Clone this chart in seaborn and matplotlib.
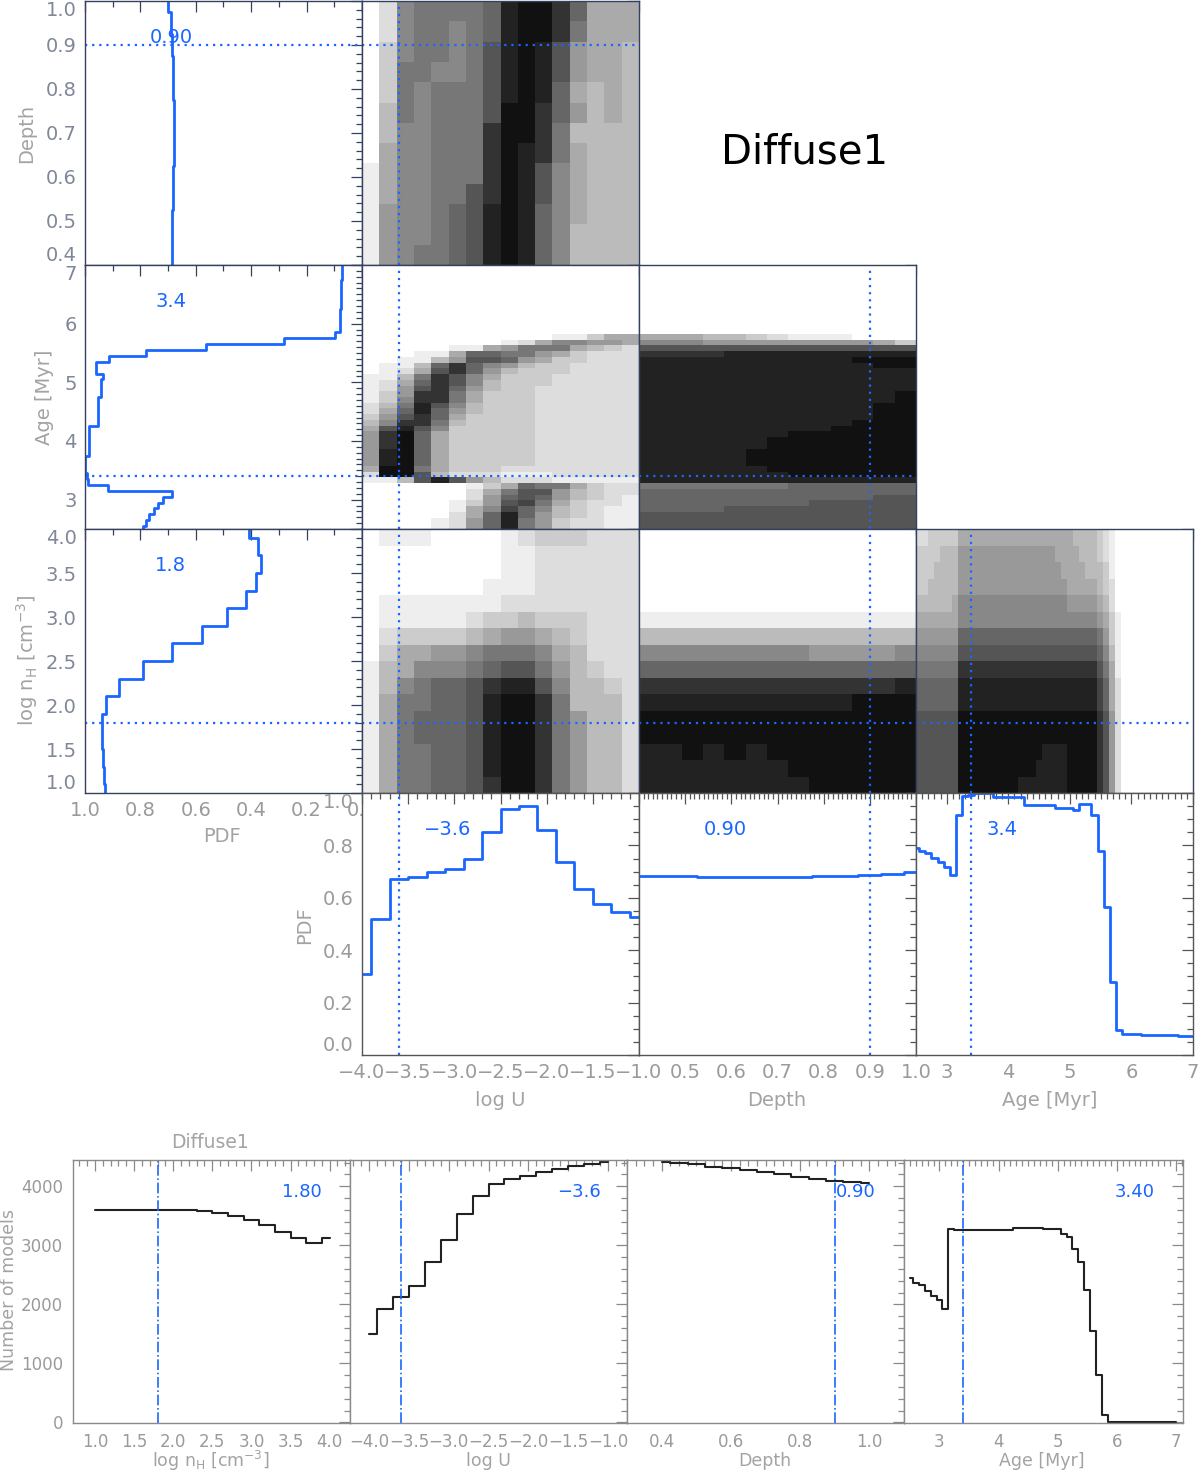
import numpy as np
import matplotlib
matplotlib.use("Agg")
import matplotlib.pyplot as plt
from matplotlib.ticker import MultipleLocator, FuncFormatter, NullFormatter
import seaborn as sns

sns.set_theme(style="white")
plt.rcParams["font.family"] = ["DejaVu Sans"]
plt.rcParams["mathtext.fontset"] = "dejavusans"
plt.rcParams["axes.linewidth"] = 1.0

# ------------------------------------------------------------------ data
logU_grid = np.linspace(-4.0, -1.0, 16)
depth_grid = np.linspace(0.4, 1.0, 13)
age_grid = np.linspace(2.5, 7.0, 46)
nH_grid = np.linspace(1.0, 4.0, 16)

best = {"nH": 1.8, "logU": -3.6, "depth": 0.90, "age": 3.4}
best_corner_txt = {"nH": "1.8", "logU": "\u22123.6", "depth": "0.90", "age": "3.4"}
best_bottom_txt = {"nH": "1.80", "logU": "\u22123.6", "depth": "0.90", "age": "3.40"}

pdf_logU = [0.31, 0.52, 0.67, 0.68, 0.70, 0.71, 0.75, 0.85, 0.94, 0.95,
            0.86, 0.735, 0.635, 0.575, 0.545, 0.525]
pdf_depth = [0.685, 0.685, 0.685, 0.681, 0.681, 0.678, 0.678, 0.678, 0.682,
             0.682, 0.686, 0.690, 0.700]
pdf_age = [0.789, 0.780, 0.770, 0.752, 0.735, 0.719, 0.687, 0.916, 0.988, 0.991,
           0.999, 0.999, 0.999, 0.986, 0.986, 0.986, 0.986, 0.986, 0.954, 0.954,
           0.954, 0.954, 0.954, 0.944, 0.944, 0.944, 0.934, 0.959, 0.959, 0.915,
           0.780, 0.564, 0.280, 0.096, 0.080, 0.080, 0.080, 0.078, 0.075, 0.075,
           0.075, 0.075, 0.075, 0.073, 0.073, 0.073]
pdf_nH = [0.926, 0.930, 0.935, 0.940, 0.937, 0.925, 0.877, 0.792, 0.687, 0.579,
          0.486, 0.417, 0.381, 0.365, 0.375, 0.408]

n_nH = [3595, 3592, 3590, 3590, 3592, 3595, 3590, 3578, 3545, 3500, 3432, 3347,
        3229, 3122, 3038, 3122]
n_logU = [1490, 1913, 2127, 2318, 2711, 3094, 3527, 3836, 4039, 4118, 4174, 4242,
          4298, 4343, 4377, 4405]
n_depth = [4405, 4388, 4371, 4332, 4304, 4275, 4247, 4202, 4157, 4123, 4095, 4078, 4061]
n_age = [2447, 2363, 2329, 2222, 2138, 2071, 1929, 3279, 3262, 3251, 3251, 3251,
         3251, 3251, 3251, 3251, 3251, 3251, 3290, 3290, 3290, 3290, 3290, 3273,
         3273, 3273, 3194, 3138, 2936, 2711, 2239, 1547, 804, 124, 0, 0, 0, 0, 0,
         0, 0, 0, 0, 0, 0, 0]

# grey shade of each cell (hex digit: F = white, 1 = near black); rows top -> bottom
shade_logU_depth = [
    "FD87777621136AAA", "FD87787621137AAA", "FC87787521259AAB", "FC77887521259AAB",
    "FC7877752126ABAB", "FB78777511369BAB", "FB8877731137BBBB", "FA8877731237ABBB",
    "EA8877731258ABBB", "EA8877531258ABBB", "E98876521268ABBB", "E98876521268BBBB",
    "E98776521268BBBB"]
shade_logU_age = (["FFFFFFFFFFFFFFFF"] * 12 + [
    "FFFFFFFFFFFEECAA", "FFFFFFFFEDA8899A", "FFFFFEEA9777ABCD", "FFFEEA66779ACDDD",
    "FFEEB95569ACCDDD", "FEEB63689BCCDDDD", "FEDA5369BCCCDDDD", "EEB7358ACCCDDDDD",
    "EDA6358BCCCDDDDD", "ED95369BCCDDDDDD", "EC9337ACCCDDDDDD", "EC8337ACCCDDDDDD",
    "DB7258BCCCDDDDDD", "DA6269BCCCDDDDDD", "C9536ACCCCDDDDDD", "B8337BCCCCDDDDDD",
    "A5258CCCCCDDDDDD", "9316ACCCCCDDDDDD", "9316ACCCCCDDDDDD", "9316ACCCCCDDDDDD",
    "9216ACCCCCDDDDDD", "9216ACCCCCDDDDDD", "9216ACCCCCDDDDDD", "A117ACCCDDDDDDDD",
    "D115BDDDEEEDDDDD", "EEB5259BDDDEEEEE", "FFFFFFECA677ACDD", "FFFFFFDA7559BCDD",
    "FFFFFFD96569BCDE", "FFFFFEC9547ACDDE", "FFFFFEA8468BCDEE", "FFFFFDA6269BCDEE",
    "FFFFED96279CDDEE", "FFFFED96279CDDEE"])
shade_depth_age = (["FFFFFFFFFFFFF"] * 12 + [
    "AAABBCDEEEFFF", "88899999999AC", "5555555555555", "3333222222222",
    "2222222222111", "2222222222211", "2222222222222", "2222222222222",
    "2222222222222", "2222222222222", "2222222222221", "2222222222221",
    "2222222222211", "2222222222211", "2222222222211", "2222222222111",
    "2222222221111", "2222222111111", "2222221111111", "2222221111111",
    "2222211111111", "2222211111111", "2222211111111", "2222221111111",
    "2222222111111", "2222222222222", "7777777666666", "6666666666666",
    "6666666666655", "6666666655555", "6666555555555", "5555555555555",
    "5555555555555", "5555555555555"])
shade_logU_nH = [
    "FEEEFFFFEDCCCDDD", "FFFFFFFFEEDDDDDD", "FFFFFFFFEEDDDDDD", "FFFFFFFEEEDDDDDD",
    "FEEEEEEEDDDDDDDD", "FEEEEEDCCBCCCDDD", "FDCCCCBA99ABCDDD", "FCAA9987778ABDDD",
    "EBA888765579BCDD", "EB8766532258BBCD", "EA7766521137BBBD", "EA76665211379BBD",
    "EA76665211379BBD", "EA77665211379BBD", "EA77665211379BBD", "EA77665311379BBD"]
shade_depth_nH = [
    "FFFFFFFFFFFFF", "FFFFFFFFFFFFF", "FFFFFFFFFFFFF", "FFFFFFFFFFFFF",
    "FFFFFFFFFFFFF", "EEEEEEEEEEEEE", "BBBBBBBBBBBBB", "8888888899998",
    "6666666666666", "3333333333332", "2222222222111", "1111111111111",
    "1111111111111", "2212121111111", "2222222111111", "2222222211111"]
shade_age_nH = [
    "DDCCCCC" + "AAAAAAAAAAAAAAAAAAABBBB" + "CDEF" + "FFFFFFFFFFFF",
    "CCCCBBB" + "9999999999999999AAAABBB" + "CDEF" + "FFFFFFFFFFFF",
    "CCCBBBB" + "99999999999999999AAAABB" + "BCEF" + "FFFFFFFFFFFF",
    "CCBBBBB" + "999999999999999999AAAAA" + "BCDF" + "FFFFFFFFFFFF",
    "BBBBBBA" + "88888888888888888899999" + "ABDF" + "FFFFFFFFFFFF",
    "AAAAAAA" + "88888888888888888888888" + "9ACE" + "FFFFFFFFFFFF",
    "9999999" + "66666666666666666666666" + "79CE" + "FFFFFFFFFFFF",
    "8888888" + "55555555555555555555555" + "68BE" + "FFFFFFFFFFFF",
    "7777777" + "33333333333333333333333" + "57AE" + "FFFFFFFFFFFF",
    "6666666" + "22222222222222222222222" + "46AD" + "FFFFFFFFFFFF",
    "6666666" + "22222222222222222222222" + "46AD" + "FFFFFFFFFFFF",
    "5555555" + "11111111111111111111111" + "359D" + "FFFFFFFFFFFF",
    "5555555" + "11111111111111111111111" + "359D" + "FFFFFFFFFFFF",
    "5555555" + "11111111111111222211111" + "359D" + "FFFFFFFFFFFF",
    "5555555" + "11111111111112222211111" + "359D" + "FFFFFFFFFFFF",
    "5555555" + "11111111112222222211111" + "359D" + "FFFFFFFFFFFF"]

# ------------------------------------------------------------------ helpers
W, H = 1200, 1474
fig = plt.figure(figsize=(W / 100, H / 100), dpi=100)


def add_ax(x, y, w, h):
    return fig.add_axes([x / W, 1 - (y + h) / H, w / W, h / H])


def step_xy(centers, values):
    c = np.asarray(centers, float)
    v = np.asarray(values, float)
    edges = np.concatenate([[c[0]], (c[:-1] + c[1:]) / 2, [c[-1]]])
    return np.repeat(edges, 2)[1:-1], np.repeat(v, 2)


def to_levels(rows, ncol):
    out = []
    for r in rows:
        r = (r + r[-1] * ncol)[:ncol]
        out.append([15 - int(ch, 16) for ch in r])
    return np.array(out[::-1], float)


BLUE = "#1a66ff"
NAVY = "#34415e"
TICKLAB = "#7f8798"
GREYLAB = "#9a9a9a"
TITLE = "#a3a3a3"

grids = {"logU": logU_grid, "depth": depth_grid, "age": age_grid, "nH": nH_grid}
lims = {"logU": (-4.0, -1.0), "depth": (0.4, 1.0), "age": (2.5, 7.0), "nH": (1.0, 4.0),
        "pdfx": (1.0, 0.0), "pdfy": (0.0, 1.0)}
major = {"logU": 0.5, "depth": 0.1, "age": 1.0, "nH": 0.5, "pdfx": 0.2, "pdfy": 0.2}
minor = {"logU": 0.1, "depth": 0.02, "age": 0.1, "nH": 0.1, "pdfx": 0.1, "pdfy": 0.05}
fmts = {"logU": "%.1f", "depth": "%.1f", "age": "%d", "nH": "%.1f", "pdfx": "%.1f", "pdfy": "%.1f"}


def fmt_func(fmt, skip=None):
    def f(v, p):
        if skip is not None and abs(v - skip) < 1e-6:
            return ""
        return (fmt % v).replace("-", "\u2212")
    return FuncFormatter(f)


def style(ax, xk, yk, color, xlabels=False, ylabels=False, labsize=13.5,
          labcolor=GREYLAB, ylabcolor=None, xskip=None, xmajor=None, xminor=None):
    ax.set_xlim(*lims[xk])
    ax.set_ylim(*lims[yk])
    ax.xaxis.set_major_locator(MultipleLocator(xmajor or major[xk]))
    ax.xaxis.set_minor_locator(MultipleLocator(xminor or minor[xk]))
    ax.yaxis.set_major_locator(MultipleLocator(major[yk]))
    ax.yaxis.set_minor_locator(MultipleLocator(minor[yk]))
    ax.xaxis.set_major_formatter(fmt_func(fmts[xk], xskip) if xlabels else NullFormatter())
    ax.yaxis.set_major_formatter(fmt_func(fmts[yk]) if ylabels else NullFormatter())
    ax.tick_params(which="both", direction="in", top=True, right=True,
                   color=color, width=0.9, labelsize=labsize, pad=6)
    ax.tick_params(which="major", length=8)
    ax.tick_params(which="minor", length=4)
    ax.tick_params(axis="x", labelcolor=labcolor)
    ax.tick_params(axis="y", labelcolor=ylabcolor or labcolor)
    for s in ax.spines.values():
        s.set_color(color)
        s.set_linewidth(1.0)
    ax.set_xlabel("")
    ax.set_ylabel("")


dot = dict(color=BLUE, lw=1.6, ls=(0, (1, 2.2)))
edge_label_axes = []

# ------------------------------------------------------------------ corner plot
cx = [85, 362, 639, 916]
ry = [1, 265, 529, 793]
rh = [264, 264, 264, 262]
cw = 277
row_keys = ["depth", "age", "nH"]
col_keys = ["logU", "depth", "age"]
row_pdfs = {"depth": pdf_depth, "age": pdf_age, "nH": pdf_nH}
heat_data = {("logU", "depth"): shade_logU_depth, ("logU", "age"): shade_logU_age,
             ("depth", "age"): shade_depth_age, ("logU", "nH"): shade_logU_nH,
             ("depth", "nH"): shade_depth_nH, ("age", "nH"): shade_age_nH}

for r, yk in enumerate(row_keys):
    # marginal in column 0
    ax = add_ax(cx[0], ry[r], cw, rh[r])
    gy, vx = step_xy(grids[yk], row_pdfs[yk])
    sns.lineplot(x=vx, y=gy, sort=False, estimator=None, color=BLUE, lw=2.0, ax=ax)
    ax.axhline(best[yk], **dot)
    style(ax, "pdfx", yk, NAVY, xlabels=(r == 2), ylabels=True, labsize=14,
          labcolor=GREYLAB, ylabcolor=TICKLAB)
    ax.text(0.31, 0.86, best_corner_txt[yk], transform=ax.transAxes, color=BLUE,
            fontsize=14, ha="center", va="center")
    edge_label_axes.append(ax)
    # heat maps
    for c, xk in enumerate(col_keys[: r + 1]):
        ax = add_ax(cx[c + 1], ry[r], cw, rh[r])
        Z = to_levels(heat_data[(xk, yk)], len(grids[xk]))
        xe = np.linspace(*lims[xk], Z.shape[1] + 1)
        ye = np.linspace(*lims[yk], Z.shape[0] + 1)
        ax.pcolormesh(xe, ye, Z, cmap="gray_r", vmin=0, vmax=15, shading="flat")
        ax.axhline(best[yk], **dot)
        ax.axvline(best[xk], **dot)
        style(ax, xk, yk, NAVY)

# bottom row of corner: 1-D PDFs
col_pdfs = {"logU": pdf_logU, "depth": pdf_depth, "age": pdf_age}
for c, xk in enumerate(col_keys):
    ax = add_ax(cx[c + 1], ry[3], cw, rh[3])
    gx, vy = step_xy(grids[xk], col_pdfs[xk])
    sns.lineplot(x=gx, y=vy, sort=False, estimator=None, color=BLUE, lw=2.0, ax=ax)
    ax.axvline(best[xk], **dot)
    skip = 0.4 if xk == "depth" else None
    style(ax, xk, "pdfy", "#555555", xlabels=True, ylabels=(c == 0), labsize=14,
          labcolor=GREYLAB, xskip=skip, xminor=(0.01 if xk == "depth" else None))
    ax.text(0.31, 0.86, best_corner_txt[xk], transform=ax.transAxes, color=BLUE,
            fontsize=14, ha="center", va="center")
    if c == 0:
        edge_label_axes.append(ax)


def ftext(x, y, s, **kw):
    fig.text(x / W, 1 - y / H, s, ha="center", va="center", **kw)


ftext(27, 133, "Depth", rotation=90, color=TITLE, fontsize=14)
ftext(45, 397, "Age [Myr]", rotation=90, color=TITLE, fontsize=14)
ftext(27, 660, r"log n$_\mathrm{H}$ [cm$^{-3}$]", rotation=90, color=TITLE, fontsize=14)
ftext(222, 836, "PDF", color=TITLE, fontsize=14)
ftext(305, 925, "PDF", rotation=90, color=TITLE, fontsize=14)
ftext(500, 1100, "log U", color=TITLE, fontsize=14)
ftext(777, 1100, "Depth", color=TITLE, fontsize=14)
ftext(1050, 1100, "Age [Myr]", color=TITLE, fontsize=14)
ftext(805, 152, "Diffuse1", color="black", fontsize=29)

# ------------------------------------------------------------------ bottom row
bx = [73, 350, 627, 904]
bkeys = ["nH", "logU", "depth", "age"]
bcounts = {"nH": n_nH, "logU": n_logU, "depth": n_depth, "age": n_age}
blims = {"nH": (0.72, 4.26), "logU": (-4.24, -0.76), "depth": (0.3, 1.1), "age": (2.4, 7.12)}
bmajor = {"nH": 0.5, "logU": 0.5, "depth": 0.2, "age": 1.0}
bminor = {"nH": 0.1, "logU": 0.1, "depth": 0.025, "age": 0.1}
bfmt = {"nH": "%.1f", "logU": "%.1f", "depth": "%.1f", "age": "%d"}
BGREY = "#8a8a8a"

for i, k in enumerate(bkeys):
    ax = add_ax(bx[i], 1160, 279 if i == 3 else 277, 263)
    gx, vy = step_xy(grids[k], bcounts[k])
    sns.lineplot(x=gx, y=vy, sort=False, estimator=None, color="#222222", lw=1.5, ax=ax)
    ax.axvline(best[k], color=BLUE, lw=1.2, ls="-.")
    ax.set_xlim(*blims[k])
    ax.set_ylim(-10, 4445)
    ax.xaxis.set_major_locator(MultipleLocator(bmajor[k]))
    ax.xaxis.set_minor_locator(MultipleLocator(bminor[k]))
    ax.yaxis.set_major_locator(MultipleLocator(1000))
    ax.yaxis.set_minor_locator(MultipleLocator(200))
    ax.xaxis.set_major_formatter(fmt_func(bfmt[k]))
    ax.yaxis.set_major_formatter(FuncFormatter(lambda v, p: "%d" % v) if i == 0 else NullFormatter())
    ax.tick_params(which="both", direction="in", top=True, right=True, color=BGREY,
                   width=0.9, labelsize=12, labelcolor=GREYLAB, pad=7)
    ax.tick_params(which="major", length=8)
    ax.tick_params(which="minor", length=4)
    for s in ax.spines.values():
        s.set_color(BGREY)
    ax.set_xlabel("")
    ax.set_ylabel("")
    ax.text(0.827, 0.878, best_bottom_txt[k], transform=ax.transAxes, color=BLUE,
            fontsize=13, ha="center", va="center")

ftext(210, 1143, "Diffuse1", color=TITLE, fontsize=13.5)
ftext(9, 1290, "Number of models", rotation=90, color=TITLE, fontsize=12.5)
ftext(211, 1461, r"log n$_\mathrm{H}$ [cm$^{-3}$]", color=TITLE, fontsize=12.5)
ftext(488, 1461, "log U", color=TITLE, fontsize=12.5)
ftext(765, 1461, "Depth", color=TITLE, fontsize=12.5)
ftext(1042, 1461, "Age [Myr]", color=TITLE, fontsize=12.5)

# keep the edge tick labels of the y axes inside their panel (as in the original)
fig.canvas.draw()
for ax in edge_label_axes:
    lo, hi = ax.get_ylim()
    for t in ax.yaxis.get_major_ticks():
        v = t.get_loc()
        if abs(v - hi) < 1e-6:
            t.label1.set_va("top")
        elif abs(v - lo) < 1e-6:
            t.label1.set_va("bottom")

fig.savefig("out.png", dpi=100, facecolor="white")
